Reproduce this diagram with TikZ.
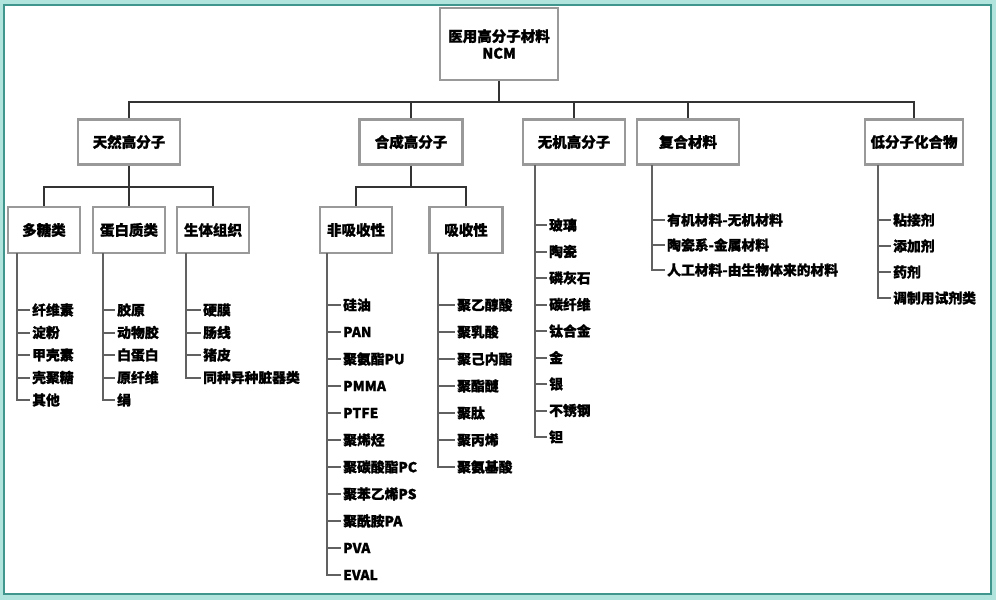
\documentclass[tikz,border=0pt]{standalone}
\usepackage{fontspec}
\setmainfont{Noto Sans CJK SC}[FakeBold=1.2]
\usepackage{tikz}
\usetikzlibrary{positioning}
\definecolor{framebg}{RGB}{178,228,222}
\definecolor{frameteal}{RGB}{64,150,140}

\begin{document}
\begin{tikzpicture}[
    x=1pt, y=-1pt,
    box/.style={draw=black!40, line width=2.4pt, fill=white, align=center, inner sep=2pt, font=\fontsize{14.5}{17}\selectfont\bfseries},
    catbox/.style={box, minimum width=102pt, minimum height=45pt},
    subbox/.style={box, minimum width=72pt, minimum height=46pt},
    leaf/.style={anchor=west, inner sep=2pt, font=\fontsize{13.8}{15}\selectfont\bfseries},
    bus/.style={black!80, line width=2.6pt},
    twig/.style={black!62, line width=2pt}
]
% frame
\fill[framebg] (0,0) rectangle (996,600);
\draw[frameteal, line width=2.5pt, fill=white] (4,5) rectangle (991,594);
\useasboundingbox (0,0) rectangle (996,600);

% top levels
\node[box, minimum width=118pt, minimum height=72pt] (root) at (499,44) {医用高分子材料\\NCM};
\node[catbox] (nat)  at (129,142) {天然高分子};
\node[catbox, minimum width=103pt] (syn)  at (411,142) {合成高分子};
\node[catbox] (inor) at (574,142) {无机高分子};
\node[catbox] (comp) at (688,142) {复合材料};
\node[catbox, minimum width=98pt] (low)  at (914,142) {低分子化合物};

\node[subbox] (poly)  at (44,230)  {多糖类};
\node[subbox] (prot)  at (129,230) {蛋白质类};
\node[subbox] (tiss)  at (213,230) {生体组织};
\node[subbox] (nonab) at (356,230) {非吸收性};
\node[subbox, minimum width=73pt] (ab) at (466,230) {吸收性};

% buses
\coordinate (b0) at (499,102);
\coordinate (b1) at (129,187);
\coordinate (b2) at (411,187);
\draw[bus] (root.south) -- (b0);
\foreach \c in {nat,syn,inor,comp,low} \draw[bus] (b0) -| (\c.north);
\draw[bus] (nat.south) -- (b1);
\foreach \c in {poly,prot,tiss} \draw[bus] (b1) -| (\c.north);
\draw[bus] (syn.south) -- (b2);
\foreach \c in {nonab,ab} \draw[bus] (b2) -| (\c.north);

% leaf lists
\coordinate (poly-s) at (17,253);
\foreach \t [count=\i] in {纤维素,淀粉,甲壳素,壳聚糖,其他} {
  \node[leaf] (poly-\i) at (30,310+22.5*\i-22.5) {\t};
  \draw[twig] (poly-s) |- (poly-\i.west);
}
\coordinate (prot-s) at (103,253);
\foreach \t [count=\i] in {胶原,动物胶,白蛋白,原纤维,绢} {
  \node[leaf] (prot-\i) at (115,310+22.5*\i-22.5) {\t};
  \draw[twig] (prot-s) |- (prot-\i.west);
}
\coordinate (tiss-s) at (186,253);
\foreach \t [count=\i] in {硬膜,肠线,猪皮,同种异种脏器类} {
  \node[leaf] (tiss-\i) at (201,310+22.5*\i-22.5) {\t};
  \draw[twig] (tiss-s) |- (tiss-\i.west);
}
\coordinate (nonab-s) at (327,253);
\foreach \t [count=\i] in {硅油,PAN,聚氨酯PU,PMMA,PTFE,聚烯烃,聚碳酸酯PC,聚苯乙烯PS,聚酰胺PA,PVA,EVAL} {
  \node[leaf] (nonab-\i) at (341,305+27*\i-27) {\t};
  \draw[twig] (nonab-s) |- (nonab-\i.west);
}
\coordinate (ab-s) at (438,253);
\foreach \t [count=\i] in {聚乙醇酸,聚乳酸,聚己内酯,聚酯醚,聚肽,聚丙烯,聚氨基酸} {
  \node[leaf] (ab-\i) at (455,305+27*\i-27) {\t};
  \draw[twig] (ab-s) |- (ab-\i.west);
}
\coordinate (inor-s) at (535,165);
\foreach \t [count=\i] in {玻璃,陶瓷,磷灰石,碳纤维,钛合金,金,银,不锈钢,钽} {
  \node[leaf] (inor-\i) at (547,225+26.5*\i-26.5) {\t};
  \draw[twig] (inor-s) |- (inor-\i.west);
}
\coordinate (comp-s) at (652,165);
\foreach \t [count=\i] in {有机材料-无机材料,陶瓷系-金属材料,人工材料-由生物体来的材料} {
  \node[leaf] (comp-\i) at (665,220+25*\i-25) {\t};
  \draw[twig] (comp-s) |- (comp-\i.west);
}
\coordinate (low-s) at (878,165);
\foreach \t [count=\i] in {粘接剂,添加剂,药剂,调制用试剂类} {
  \node[leaf] (low-\i) at (891,220+26*\i-26) {\t};
  \draw[twig] (low-s) |- (low-\i.west);
}
\end{tikzpicture}
\end{document}
